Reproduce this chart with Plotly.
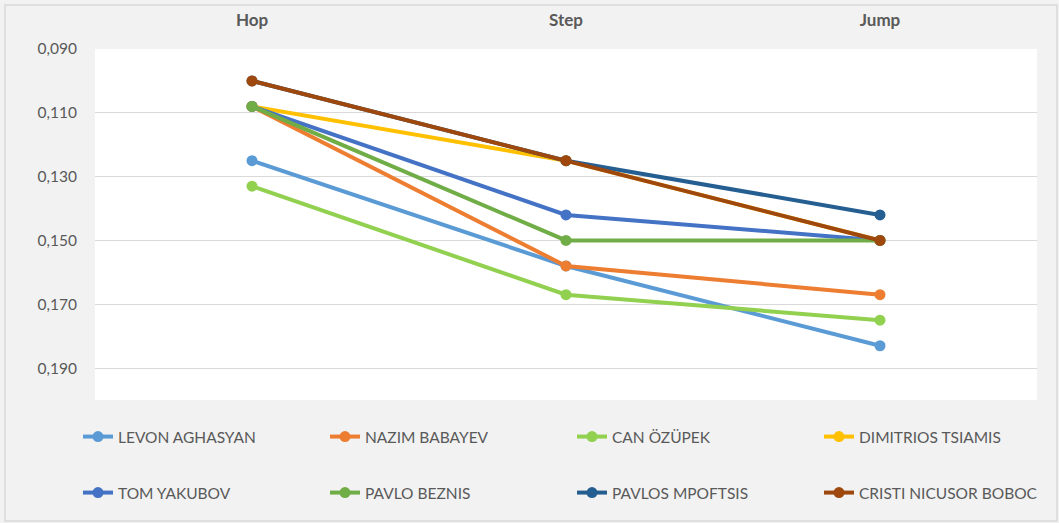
import plotly.graph_objects as go

phases = ["Hop", "Step", "Jump"]

levon = [0.125, 0.158, 0.183]
nazim = [0.108, 0.158, 0.167]
can = [0.133, 0.167, 0.175]
dimitrios = [0.108, 0.125, 0.150]
tom = [0.108, 0.142, 0.150]
pavlo = [0.108, 0.150, 0.150]
pavlos = [0.100, 0.125, 0.142]
cristi = [0.100, 0.125, 0.150]

athletes = [
    ("LEVON AGHASYAN", levon, "#5B9BD5", "legend"),
    ("NAZIM BABAYEV", nazim, "#ED7D31", "legend"),
    ("CAN ÖZÜPEK", can, "#92D050", "legend"),
    ("DIMITRIOS TSIAMIS", dimitrios, "#FFC000", "legend"),
    ("TOM YAKUBOV", tom, "#4472C4", "legend2"),
    ("PAVLO BEZNIS", pavlo, "#70AD47", "legend2"),
    ("PAVLOS MPOFTSIS", pavlos, "#255E91", "legend2"),
    ("CRISTI NICUSOR BOBOC", cristi, "#9E480E", "legend2"),
]

yticks = [0.090, 0.110, 0.130, 0.150, 0.170, 0.190]

fig = go.Figure()
for name, vals, color, leg in athletes:
    fig.add_trace(go.Scatter(
        x=phases, y=vals, name=name, mode="lines+markers",
        line=dict(color=color, width=4),
        marker=dict(color=color, size=11),
        legend=leg,
    ))

W, H = 1059, 523
L, R, T, B = 95, 22, 49, 123
pw, ph = W - L - R, H - T - B

def px_x(x):
    return (x - L) / pw

def px_y(y):
    return (H - B - y) / ph

font = "Lato, 'Open Sans', sans-serif"
legend_common = dict(
    orientation="h", xanchor="left", yanchor="middle",
    entrywidth=202, entrywidthmode="pixels",
    bgcolor="rgba(0,0,0,0)", font=dict(family=font, size=15.5, color="#595959"),
    itemclick=False, itemdoubleclick=False,
)

fig.update_layout(
    width=W, height=H,
    margin=dict(l=L, r=R, t=T, b=B, autoexpand=False),
    paper_bgcolor="#F2F2F2", plot_bgcolor="#FFFFFF",
    font=dict(family=font, color="#595959"),
    separators=",.",
    showlegend=True,
    legend=dict(x=px_x(78), y=px_y(437), **legend_common),
    legend2=dict(x=px_x(78), y=px_y(493), **legend_common),
    xaxis=dict(
        side="top", showgrid=False, showline=False, zeroline=False,
        range=[-0.5, 2.5],
        ticks="", tickfont=dict(family=font, size=17, color="#595959", weight="bold"),
        ticklabelstandoff=19,
    ),
    yaxis=dict(
        range=[0.200, 0.090], tickvals=yticks,
        tickformat=".3f", showgrid=True, gridcolor="#D9D9D9", gridwidth=1.3,
        zeroline=False, showline=False, ticks="",
        tickfont=dict(family=font, size=15.5, color="#595959"),
        ticklabelstandoff=17,
    ),
    shapes=[dict(
        type="rect", xref="paper", yref="paper",
        x0=px_x(5), x1=px_x(1057), y0=px_y(521), y1=px_y(5),
        line=dict(color="#D9D9D9", width=1.5), fillcolor="rgba(0,0,0,0)",
        layer="below",
    )],
)

fig.write_html("out.html")
